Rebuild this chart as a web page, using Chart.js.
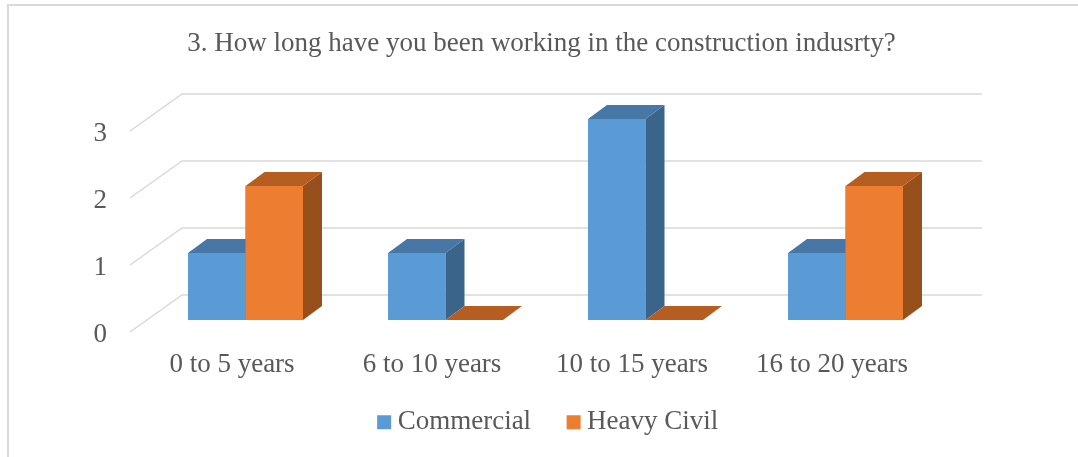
<!DOCTYPE html>
<html>
<head>
<meta charset="utf-8">
<script src="https://cdn.jsdelivr.net/npm/chart.js@4.4.1/dist/chart.umd.min.js"></script>
<style>
  html, body { margin: 0; padding: 0; background: #ffffff; }
  #wrap { width: 1078px; height: 457px; }
</style>
</head>
<body>
<div id="wrap"><canvas id="chart" width="1078" height="457"></canvas></div>
<script>
// ---- data ----
const titleText = '3. How long have you been working in the construction indusrty?';
const categories = ['0 to 5 years', '6 to 10 years', '10 to 15 years', '16 to 20 years'];
const seriesNames = ['Commercial', 'Heavy Civil'];
const commercialValues = [1, 1, 3, 1];
const heavyCivilValues = [2, 0, 0, 2];
const yTickValues = [0, 1, 2, 3];

// ---- style ----
const FONT = "'Liberation Serif', 'Times New Roman', serif";
const FS = 27;
const TEXT = '#595959';
const frontColors = ['#5B9BD5', '#ED7D31'];
const topColors = ['#4677A6', '#B65E22'];
const sideColors = ['#3A6489', '#97501B'];
const WALL = { dx: 50, dy: -37 };
const SHIFT = { dx: 13.5, dy: -12 };
const DEPTH = { dx: 19, dy: -14 };
const PAD_LEFT = 5;
const LEGEND_SHIFT = { dx: 9.75, dy: -15.2 };

function drawFaces(ctx, el, d) {
  const p = el.getProps(['x', 'y', 'base', 'width'], true);
  const l = p.x - p.width / 2, r = p.x + p.width / 2;
  const top = Math.min(p.y, p.base), bot = Math.max(p.y, p.base);
  if (bot - top > 0.5) {
    ctx.fillStyle = sideColors[d];
    ctx.beginPath();
    ctx.moveTo(r, top);
    ctx.lineTo(r + DEPTH.dx, top + DEPTH.dy);
    ctx.lineTo(r + DEPTH.dx, bot + DEPTH.dy);
    ctx.lineTo(r, bot);
    ctx.closePath();
    ctx.fill();
  }
  ctx.fillStyle = topColors[d];
  ctx.beginPath();
  ctx.moveTo(l, top);
  ctx.lineTo(r, top);
  ctx.lineTo(r + DEPTH.dx, top + DEPTH.dy);
  ctx.lineTo(l + DEPTH.dx, top + DEPTH.dy);
  ctx.closePath();
  ctx.fill();
}

const threeD = {
  id: 'threeD',
  afterLayout(chart) {
    const lg = chart.legend;
    if (lg) {
      lg.left += LEGEND_SHIFT.dx; lg.right += LEGEND_SHIFT.dx;
      lg.top += LEGEND_SHIFT.dy; lg.bottom += LEGEND_SHIFT.dy;
    }
  },
  beforeDraw(chart) {
    const ctx = chart.ctx;
    ctx.save();
    ctx.fillStyle = '#ffffff';
    ctx.fillRect(0, 0, chart.width, chart.height);
    ctx.strokeStyle = '#d9d9d9';
    ctx.lineWidth = 2;
    ctx.beginPath();
    ctx.moveTo(8, chart.height);
    ctx.lineTo(8, 5);
    ctx.lineTo(chart.width, 5);
    ctx.stroke();
    ctx.restore();
  },
  beforeDatasetsDraw(chart) {
    const { ctx, chartArea, scales } = chart;
    const y = scales.y;
    ctx.save();
    ctx.strokeStyle = '#d9d9d9';
    ctx.lineWidth = 1.5;
    y.ticks.forEach(t => {
      const py = y.getPixelForValue(t.value);
      ctx.beginPath();
      ctx.moveTo(chartArea.left - 2, py);
      ctx.lineTo(chartArea.left + WALL.dx, py + WALL.dy);
      ctx.lineTo(chartArea.right + WALL.dx, py + WALL.dy);
      ctx.stroke();
    });
    ctx.restore();
    ctx.save();
    ctx.translate(SHIFT.dx, SHIFT.dy);
  },
  afterDatasetsDraw(chart) {
    const ctx = chart.ctx;
    const metas = [chart.getDatasetMeta(0), chart.getDatasetMeta(1)];
    const n = metas[0].data.length;
    for (let i = 0; i < n; i++) {
      metas.forEach((meta, d) => {
        const el = meta.data[i];
        if (d > 0) el.draw(ctx);
        drawFaces(ctx, el, d);
      });
    }
    ctx.restore();
  }
};

new Chart(document.getElementById('chart'), {
  type: 'bar',
  data: {
    labels: categories,
    datasets: [
      { label: seriesNames[0], data: commercialValues, backgroundColor: frontColors[0], borderWidth: 0, clip: false },
      { label: seriesNames[1], data: heavyCivilValues, backgroundColor: frontColors[1], borderWidth: 0, clip: false }
    ]
  },
  options: {
    responsive: false,
    animation: false,
    devicePixelRatio: 1,
    categoryPercentage: 0.575,
    barPercentage: 1,
    layout: { padding: { left: PAD_LEFT, right: 0, top: 0, bottom: 0 } },
    plugins: {
      tooltip: { enabled: false },
      title: {
        display: true,
        text: titleText,
        color: TEXT,
        font: { family: FONT, size: FS, weight: 'normal' },
        padding: { top: 27.5, bottom: 71.1 }
      },
      legend: {
        position: 'bottom',
        maxHeight: 75.6,
        labels: {
          color: TEXT,
          font: { family: FONT, size: FS },
          usePointStyle: true,
          pointStyle: 'rect',
          boxWidth: 0.01,
          boxHeight: 14,
          padding: 42.5
        }
      }
    },
    scales: {
      x: {
        grid: { display: false, drawTicks: false },
        border: { display: false },
        ticks: { color: TEXT, font: { family: FONT, size: FS }, padding: 17, maxRotation: 0, autoSkip: false },
        afterFit(s) { s.height = 49.4; }
      },
      y: {
        min: 0, max: 3,
        grid: { display: false, drawTicks: false },
        border: { display: false },
        ticks: {
          color: TEXT, font: { family: FONT, size: FS }, padding: 25, stepSize: 1, labelOffset: 3,
          callback: (v) => yTickValues.includes(v) ? String(v) : null
        },
        afterFit(s) { s.width = 132 - PAD_LEFT; }
      },
      yRight: {
        position: 'right',
        display: true,
        grid: { display: false, drawTicks: false },
        border: { display: false },
        ticks: { display: false },
        afterFit(s) { s.width = 146; }
      }
    }
  },
  plugins: [threeD]
});
</script>
</body>
</html>
